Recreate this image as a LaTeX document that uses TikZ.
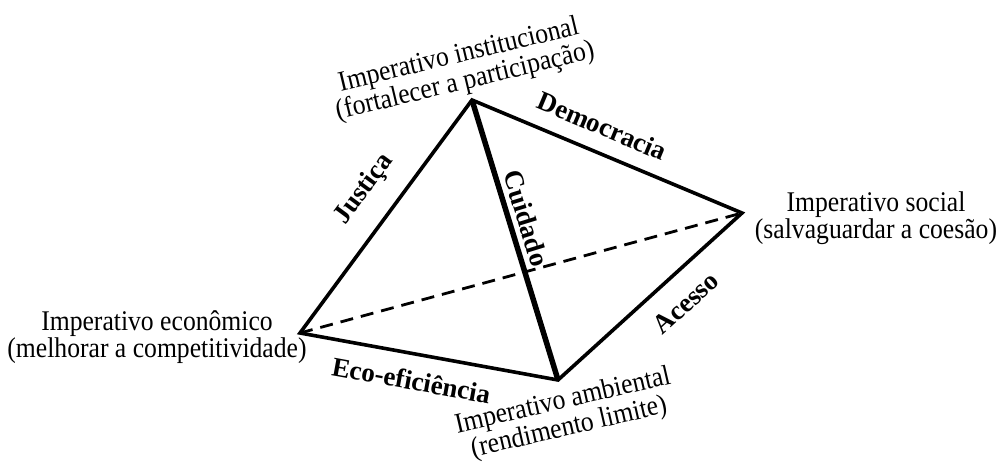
\documentclass[tikz,border=0pt]{standalone}
\usepackage{fontspec}
\setmainfont{Liberation Serif}
\newfontfamily\narrowserif{Liberation Serif}[FakeStretch=0.9]
\usepackage{tikz}
\usetikzlibrary{positioning,calc}

\tikzset{
    vertexlbl/.style={align=center, font=\narrowserif\fontsize{28.5}{27}\selectfont, inner sep=0pt},
    edgelbl/.style={font=\bfseries\fontsize{27}{29}\selectfont, inner sep=0pt, sloped},
    edge/.style={line width=3.6pt, line join=miter},
}

\begin{document}
\begin{tikzpicture}[x=1pt, y=1pt]
        \useasboundingbox (0,0) rectangle (998,463);

        % corners of the tetrahedron
        \coordinate (T) at (472,363);
        \coordinate (R) at (742,250);
        \coordinate (L) at (300,130);
        \coordinate (B) at (558,83);

        % hidden edge
        \draw[line width=2.8pt, dash pattern=on 13pt off 8pt] (L) -- (R);

        % outer edges with their labels
        \draw[edge] (L) -- node[edgelbl, pos=0.53, above=20pt] (justica) {Justiça}
            (T) -- node[edgelbl, pos=0.445, above=15pt] (democracia) {Democracia}
            (R) -- node[edgelbl, pos=0.41, below=18pt] (acesso) {Acesso}
            (B) -- node[edgelbl, pos=0.55, below=15pt] (ecoef) {Eco-eficiência} cycle;

        % front edge
        \draw[line width=5.5pt] (T) -- node[edgelbl, pos=0.44, above=5pt] (cuidado) {Cuidado} (B);

        % the four imperatives
        \node[vertexlbl, rotate=13.5] (instlbl) at (462,394) {Imperativo institucional\\(fortalecer a participação)};
        \node[vertexlbl] (soclbl) at (876,245) {Imperativo social\\(salvaguardar a coesão)};
        \node[vertexlbl] (econlbl) at (157,126) {Imperativo econômico\\(melhorar a competitividade)};
        \node[vertexlbl, rotate=13] (amblbl) at (566,48) {Imperativo ambiental\\(rendimento limite)};
\end{tikzpicture}
\end{document}
